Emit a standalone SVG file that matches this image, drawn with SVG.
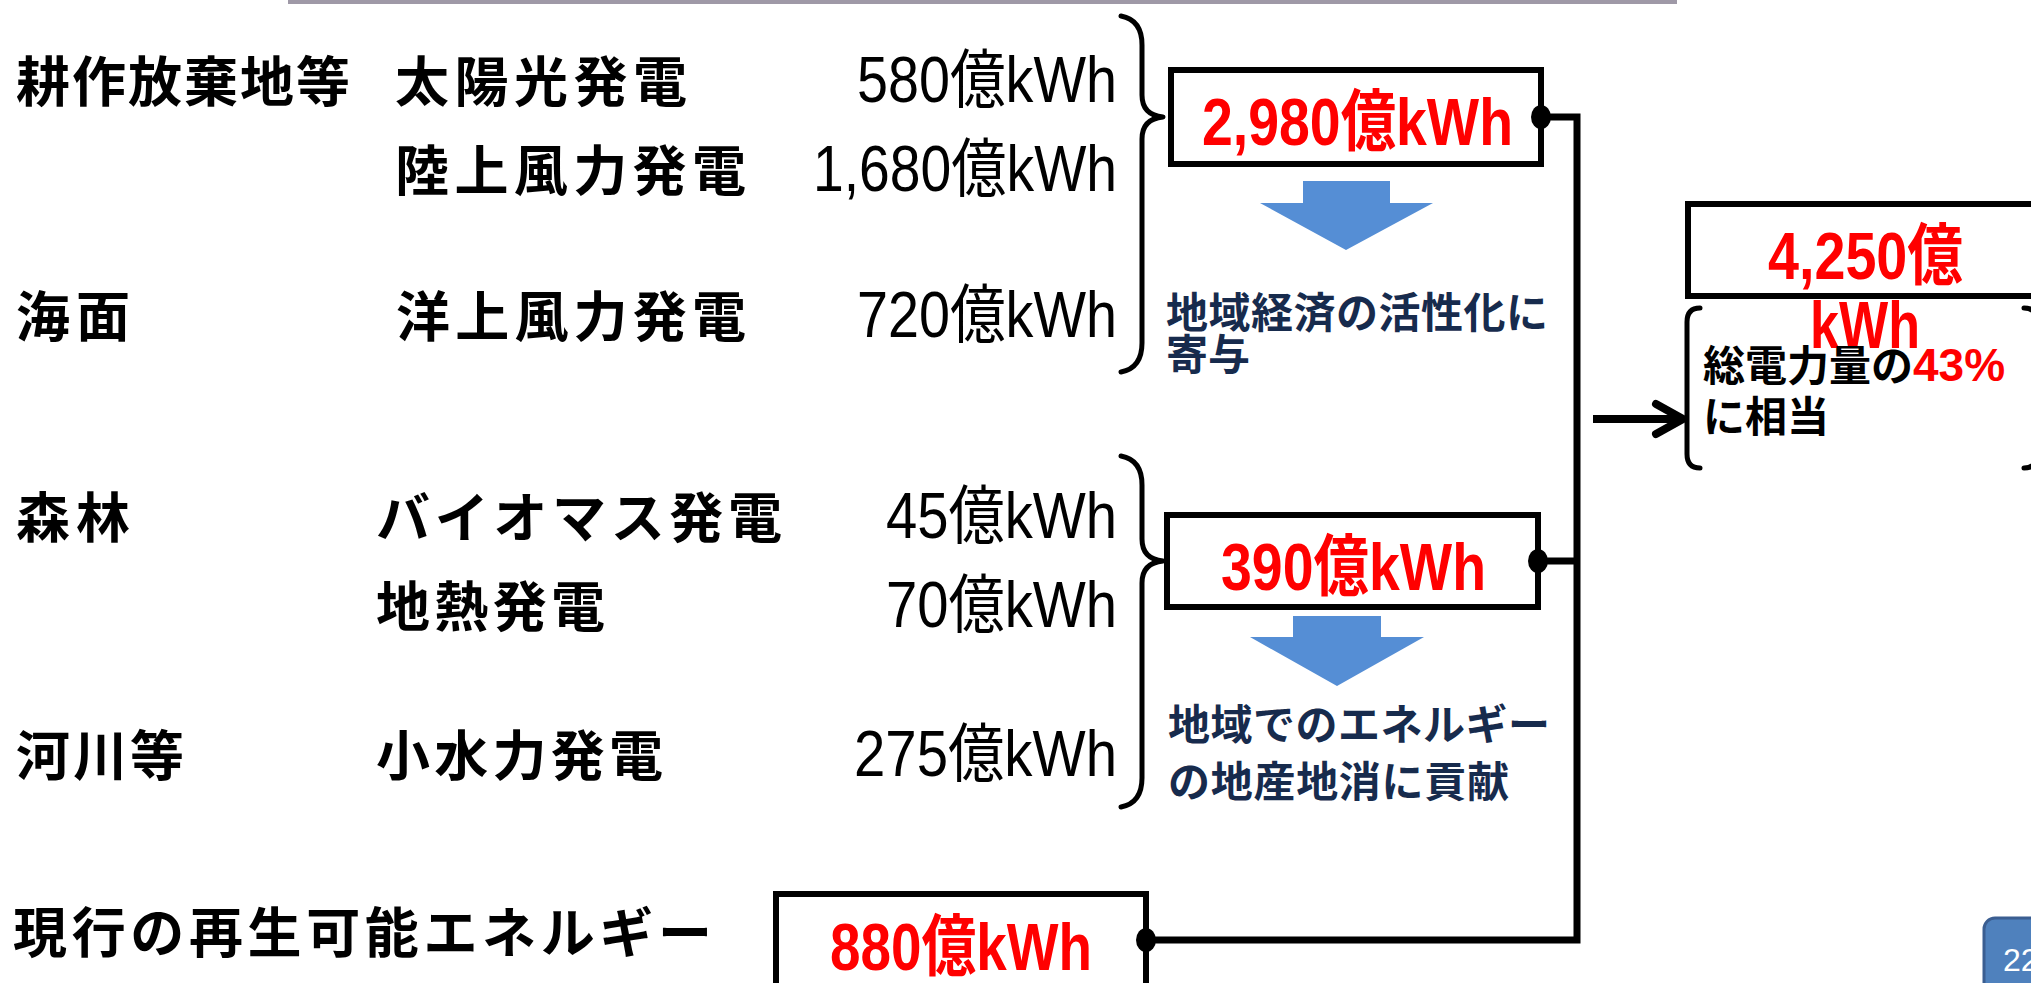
<svg xmlns="http://www.w3.org/2000/svg" width="2031" height="983" viewBox="0 0 2031 983">
<style>
.jp{font-family:"Noto Sans CJK JP","Noto Sans CJK SC",sans-serif;font-weight:700;font-size:54px;fill:#000}
.num{font-family:"Liberation Sans","Noto Sans CJK JP",sans-serif;font-weight:400;font-size:64px;fill:#000}
.red{font-family:"Liberation Sans","Noto Sans CJK JP",sans-serif;font-weight:700;font-size:67px;fill:#FF0000}
.navy{font-family:"Noto Sans CJK JP",sans-serif;font-weight:700;font-size:42px;fill:#172B4D}
.note{font-family:"Noto Sans CJK JP",sans-serif;font-weight:700;font-size:42px;fill:#000}
.box{fill:#fff;stroke:#000;stroke-width:6}
.brace{fill:none;stroke:#000;stroke-width:5;stroke-linecap:round;stroke-linejoin:round}
.conn{fill:none;stroke:#000;stroke-width:7}
.barrow{fill:#558ED5}
</style>
<rect x="288" y="0" width="1389" height="4" fill="#9f99a7"/>

<g id="labels">
<text class="jp" x="16" y="102" textLength="334">耕作放棄地等</text>
<text class="jp" x="395" y="102" textLength="292">太陽光発電</text>
<text class="num" x="857" y="102" textLength="260" lengthAdjust="spacingAndGlyphs">580億kWh</text>
<text class="jp" x="395" y="191" textLength="351">陸上風力発電</text>
<text class="num" x="813" y="191" textLength="304" lengthAdjust="spacingAndGlyphs">1,680億kWh</text>
<text class="jp" x="16" y="337" textLength="114">海面</text>
<text class="jp" x="396" y="337" textLength="350">洋上風力発電</text>
<text class="num" x="857" y="337" textLength="260" lengthAdjust="spacingAndGlyphs">720億kWh</text>
<text class="jp" x="16" y="538" textLength="114">森林</text>
<text class="jp" x="376" y="538" textLength="406">バイオマス発電</text>
<text class="num" x="886" y="538" textLength="231" lengthAdjust="spacingAndGlyphs">45億kWh</text>
<text class="jp" x="376" y="627" textLength="229">地熱発電</text>
<text class="num" x="886" y="627" textLength="231" lengthAdjust="spacingAndGlyphs">70億kWh</text>
<text class="jp" x="16" y="776" textLength="168">河川等</text>
<text class="jp" x="376" y="776" textLength="287">小水力発電</text>
<text class="num" x="854" y="776" textLength="263" lengthAdjust="spacingAndGlyphs">275億kWh</text>
<text class="jp" x="13" y="953" textLength="699">現行の再生可能エネルギー</text>
</g>

<g id="braces">
<path class="brace" d="M1121,16 Q1142,20 1142,45 V95 Q1142,115 1163,117 Q1142,119 1142,139 V343 Q1142,368 1121,372"/>
<path class="brace" d="M1121,456 Q1142,460 1142,485 V539 Q1142,559 1163,561 Q1142,563 1142,583 V778 Q1142,803 1121,807"/>
</g>

<g id="connectors">
<path class="conn" d="M1541,117 H1577 V940 H1146"/>
<path class="conn" d="M1538,561 H1577"/>
<path d="M1593,419 H1678" fill="none" stroke="#000" stroke-width="8"/>
<path d="M1656,404 L1683,419 L1656,434" fill="none" stroke="#000" stroke-width="8" stroke-linecap="round" stroke-linejoin="round"/>
</g>

<g id="box2980">
<rect class="box" x="1171" y="70" width="370" height="94"/>
<text class="red" x="1202" y="145" textLength="311" lengthAdjust="spacingAndGlyphs">2,980億kWh</text>
<ellipse cx="1541" cy="117" rx="10" ry="12"/>
</g>

<g id="arrow1">
<polygon class="barrow" points="1303,181 1390,181 1390,203 1433,203 1346,250 1260,203 1303,203"/>
<text class="navy" x="1166" y="328" textLength="382">地域経済の活性化に</text>
<text class="navy" x="1166" y="370">寄与</text>
</g>

<g id="box390">
<rect class="box" x="1167" y="515" width="371" height="92"/>
<text class="red" x="1221" y="590" textLength="265" lengthAdjust="spacingAndGlyphs">390億kWh</text>
<ellipse cx="1538" cy="561" rx="10" ry="12"/>
</g>

<g id="arrow2">
<polygon class="barrow" points="1293,616 1381,616 1381,637 1424,637 1337,686 1250,637 1293,637"/>
<text class="navy" x="1168" y="740" textLength="382">地域でのエネルギー</text>
<text class="navy" x="1168" y="797" textLength="341">の地産地消に貢献</text>
</g>

<g id="box880">
<rect class="box" x="776" y="894" width="370" height="120"/>
<text class="red" x="830" y="970" textLength="262" lengthAdjust="spacingAndGlyphs">880億kWh</text>
<ellipse cx="1146" cy="940" rx="10" ry="12"/>
</g>

<g id="total">
<rect class="box" x="1688" y="204" width="400" height="92"/>
<path class="brace" d="M1700,308 Q1687,308 1687,322 V454 Q1687,468 1700,468"/>
<path class="brace" d="M2024,308 Q2037,308 2037,322 V454 Q2037,468 2024,468"/>
<text class="red" x="1768" y="279" textLength="195" lengthAdjust="spacingAndGlyphs">4,250億</text>
<text class="red" x="1810" y="348" textLength="110" lengthAdjust="spacingAndGlyphs">kWh</text>
<text class="note" x="1703" y="381">総電力量の<tspan style="fill:#FF0000;font-family:'Liberation Sans',sans-serif;font-weight:700;font-size:46px">43%</tspan></text>
<text class="note" x="1703" y="432">に相当</text>
</g>

<g id="page">
<rect x="1984" y="918" width="80" height="80" rx="11" fill="#4F81BD" stroke="#3B5E91" stroke-width="3"/>
<text x="2003" y="971" font-family="Liberation Sans, sans-serif" font-size="32" fill="#fff">22</text>
</g>
</svg>
